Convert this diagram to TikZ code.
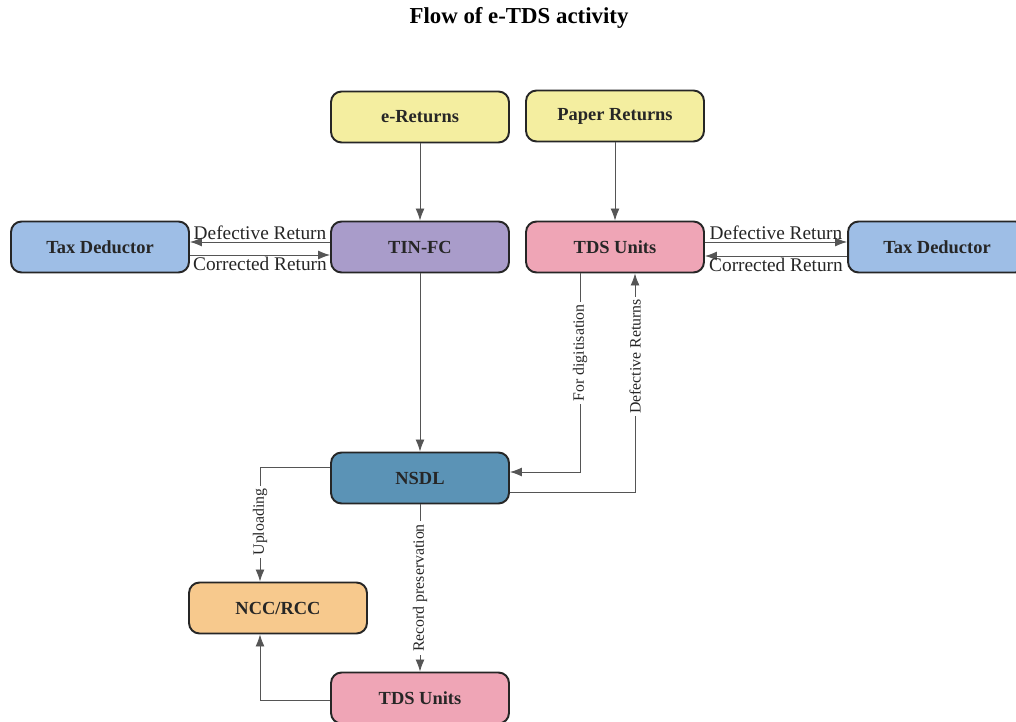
\documentclass[tikz,border=0pt]{standalone}
\usepackage{fontspec}
\setmainfont{Liberation Serif}
\usepackage{xcolor}
\usetikzlibrary{positioning,arrows.meta,calc}
\definecolor{retn}{HTML}{F4EEA0}
\definecolor{dedu}{HTML}{9EBEE6}
\definecolor{tinfc}{HTML}{A99CCA}
\definecolor{tdsu}{HTML}{EFA5B6}
\definecolor{nsdlc}{HTML}{5B93B6}
\definecolor{nccc}{HTML}{F7C98D}
\definecolor{edge}{HTML}{555555}
\tikzset{
  box/.style ={draw=black!85, line width=1.1pt, rounded corners=6pt, minimum width=3.56cm, minimum height=1.02cm, inner sep=1pt, text=black!85, font=\fontsize{10.5}{12}\selectfont\bfseries},
  flow/.style={draw=edge, line width=0.5pt, -{Latex[length=2.4mm,width=1.8mm]}},
  elab/.style={font=\fontsize{11}{13}\selectfont, inner sep=1pt, text=black!85},
  vlab/.style={font=\fontsize{9}{11}\selectfont, fill=white, rotate=90, inner sep=1.5pt, text=black!85},
}
\begin{document}
\begin{tikzpicture}[x=0.02cm, y=-0.02cm]
\useasboundingbox (0,0) rectangle (1016,722);
\node[font=\fontsize{13}{15}\selectfont\bfseries] (title) at (519,18) {Flow of e-TDS activity};
\node[box, fill=retn] (eret) at (420,117) {e-Returns};
\node[box, fill=retn] (pret) at (615,116) {Paper Returns};
\node[box, fill=dedu] (dedA) at (100,247) {Tax Deductor};
\node[box, fill=tinfc] (tin) at (420,247) {TIN-FC};
\node[box, fill=tdsu] (tdsA) at (615,247) {TDS Units};
\node[box, fill=dedu] (dedB) at (937,247) {Tax Deductor};
\node[box, fill=nsdlc] (nsdl) at (420,478) {NSDL};
\node[box, fill=nccc] (ncc) at (278,608) {NCC/RCC};
\node[box, fill=tdsu] (tdsB) at (420,698) {TDS Units};

\draw[flow] (eret) -- (tin);
\draw[flow] (pret) -- (tdsA);
\draw[flow] ($(tin.west)+(0,-5)$) -- node[elab, above] {Defective Return} ($(dedA.east)+(0,-5)$);
\draw[flow] ($(dedA.east)+(0,8)$) -- node[elab, below] {Corrected Return} ($(tin.west)+(0,8)$);
\draw[flow] ($(tdsA.east)+(0,-5)$) -- node[elab, above] {Defective Return} ($(dedB.west)+(0,-5)$);
\draw[flow] ($(dedB.west)+(0,9)$) -- node[elab, below] {Corrected Return} ($(tdsA.east)+(0,9)$);
\draw[flow] (tin) -- (nsdl);
\draw[flow] ($(tdsA.south)+(-35,0)$) |- node[vlab, pos=0.2] {For digitisation} ($(nsdl.east)+(0,-6)$);
\draw[flow] ($(nsdl.east)+(0,14)$) -| node[vlab, pos=0.81] {Defective Returns} ($(tdsA.south)+(20,0)$);
\draw[flow] ($(nsdl.west)+(0,-11)$) -| node[vlab, pos=0.74] {Uploading} ($(ncc.north)+(-18,0)$);
\draw[flow] (nsdl) -- node[vlab, pos=0.5] {Record preservation} (tdsB);
\draw[flow] ($(tdsB.west)+(0,2)$) -| ($(ncc.south)+(-18,0)$);

\end{tikzpicture}
\end{document}
